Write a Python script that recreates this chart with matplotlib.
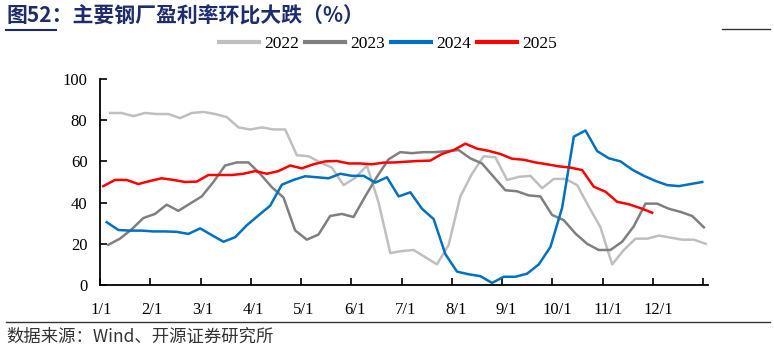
import matplotlib
matplotlib.use('Agg')
import matplotlib.pyplot as plt
import numpy as np
from matplotlib.lines import Line2D

# ---------------- data ----------------
month_labels = ['1/1', '2/1', '3/1', '4/1', '5/1', '6/1', '7/1', '8/1', '9/1', '10/1', '11/1', '12/1']
series_names = ['2022', '2023', '2024', '2025']

v2022 = [83.5, 83.5, 82, 83.5, 83, 83, 81, 83.5, 84, 83, 81.5, 76.5, 75.5, 76.5, 75.5, 75.5,
         63, 62.5, 59.5, 57, 48.5, 52, 58, 40, 15.5, 16.5, 17, 13.5, 10, 19.5, 43, 54,
         62.5, 62, 51, 52.5, 53, 47, 51.5, 51.5, 48.5, 38, 28, 10, 17, 22.5, 22.5, 24,
         23, 22, 22, 20]
v2023 = [19.5, 22.5, 27, 32.5, 34.5, 39, 36, 39.5, 43, 50, 58, 59.5, 59.5, 54, 47.5, 42.5,
         26.5, 22, 24.5, 33.5, 34.5, 33, 43, 52.5, 61, 64.5, 64, 64.5, 64.5, 65, 65.5, 61.5,
         59, 52.5, 46, 45.5, 43.5, 43, 34, 31.5, 25, 20, 17, 17, 21, 28.5, 39.5, 39.5,
         37, 35.5, 33.5, 28]
v2024 = [30.5, 26.7, 26.4, 26.4, 26, 26, 25.8, 24.8, 27.5, 24.2, 21, 23.2, 29, 33.8, 38.5, 48.7,
         51, 52.8, 52.3, 51.8, 54, 53, 53, 49.7, 52.3, 43, 45, 37, 32, 15, 6.5, 5.2,
         4.3, 1, 4, 4, 5.5, 10, 18.5, 37.5, 72, 75, 65, 61.5, 60, 56, 53, 50.5,
         48.5, 48, 49, 50]
v2025 = [48, 51, 51, 49, 50.5, 51.8, 51, 50, 50.2, 53.4, 53.4, 53.4, 54, 55.3, 54, 55.3,
         58, 56.6, 58.6, 60, 60.2, 59, 59, 58.6, 59.4, 59.5, 59.9, 60.2, 60.4, 63.6, 65.5, 68.6,
         66.2, 65.1, 63.6, 61.3, 60.8, 59.5, 58.6, 57.6, 57, 55.8, 47.7, 45.3, 40.4, 39.2, 37.3, 35.1]

all_values = [v2022, v2023, v2024, v2025]
colors = ['#BFBFBF', '#7F7F7F', '#0070C0', '#FF0000']
# first-week position of each year (in month units) and weekly step
starts = [0.199, 0.165, 0.133, 0.066]
STEP = 0.2324

# ---------------- figure ----------------
W, H = 774, 350
fig = plt.figure(figsize=(W / 100, H / 100), dpi=100)
ax = fig.add_axes([100 / W, 65 / H, 608 / W, 206 / H])

for vals, c, s, n in zip(all_values, colors, starts, series_names):
    x = s + STEP * np.arange(len(vals))
    ax.plot(x, vals, color=c, lw=1.8, label=n, solid_joinstyle='round')

ax.set_xlim(0, 608 / 50.25)
ax.set_ylim(0, 100)

serif = 'Liberation Serif'
ax.xaxis.remove_overlapping_locs = False
ax.set_xticks(range(13))
ax.set_xticklabels([''] * 13)
ax.set_xticks([0.02 + i * 1.009 for i in range(12)], minor=True)
ax.set_xticklabels(month_labels, minor=True, fontfamily=serif, fontsize=12)
ax.tick_params(axis='x', which='major', direction='in', length=5, width=1.2, color='black')
ax.tick_params(axis='x', which='minor', length=0, pad=12)
ax.set_yticks(range(0, 101, 20))
ax.set_yticklabels([str(v) for v in range(0, 101, 20)], fontfamily=serif, fontsize=12)
ax.tick_params(axis='y', direction='in', length=5, width=1.2, pad=9, color='black')

for sp in ['top', 'right']:
    ax.spines[sp].set_visible(False)
for sp in ['left', 'bottom']:
    ax.spines[sp].set_linewidth(1.3)
    ax.spines[sp].set_color('black')

# legend
handles = [Line2D([0], [0], color=c, lw=3) for c in colors]
fig.legend(handles, series_names, loc='center', bbox_to_anchor=(388 / W, 1 - 44 / H),
           ncol=4, frameon=False, prop={'family': serif, 'size': 12.5},
           handlelength=2.3, handletextpad=0.3, columnspacing=0.35)

# title and decorations
cjk = ['Noto Sans CJK SC', 'DejaVu Sans']
fig.text(6 / W, 1 - 16 / H, '图52：主要钢厂盈利率环比大跌（%）', fontsize=15,
         fontweight='bold', color='#1E2C6E', family=cjk, va='center', ha='left')
fig.add_artist(Line2D([6 / W, 56 / W], [1 - 30 / H] * 2, color='#1E2C6E', lw=1.5))
fig.add_artist(Line2D([722 / W, 770 / W], [1 - 29 / H] * 2, color='#333333', lw=1.0))
fig.add_artist(Line2D([6 / W, 770 / W], [1 - 322 / H] * 2, color='#333333', lw=1.0))
fig.text(6 / W, 1 - 337 / H, '数据来源：Wind、开源证券研究所', fontsize=12.5,
         color='#333333', family=cjk, va='center', ha='left')

fig.savefig('out.png', dpi=100)
